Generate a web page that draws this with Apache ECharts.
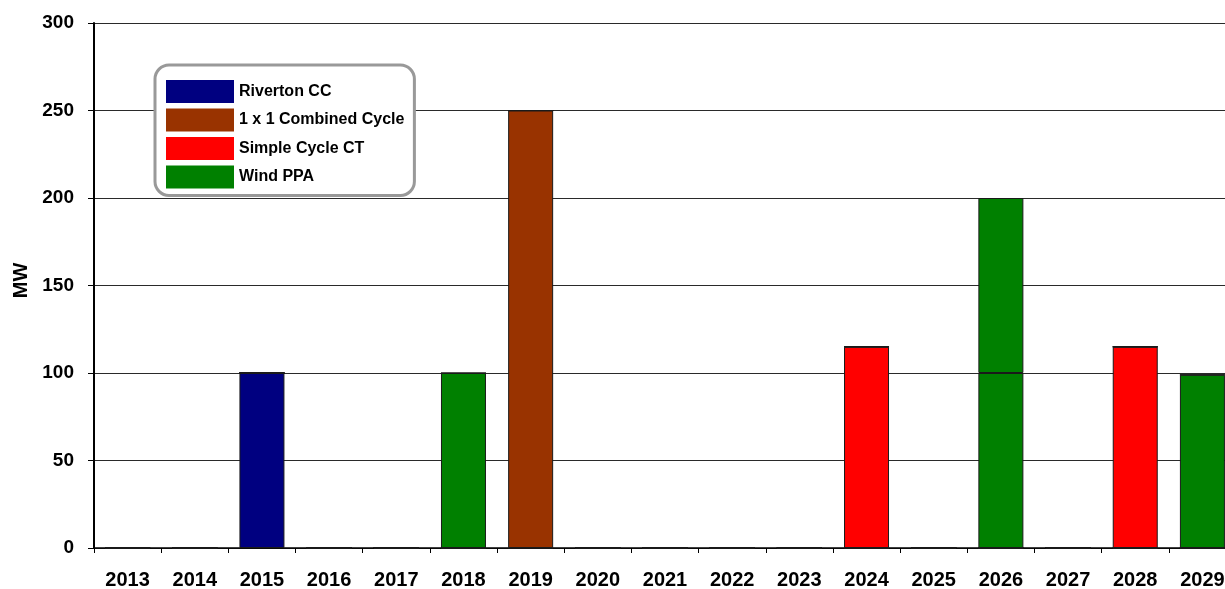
<!DOCTYPE html>
<html>
<head>
<meta charset="utf-8">
<script src="https://cdn.jsdelivr.net/npm/echarts@6/dist/echarts.min.js"></script>
<style>
  html, body { margin: 0; padding: 0; background: #fff; overflow: hidden; }
  #chart { width: 1225px; height: 589px; }
</style>
</head>
<body>
<div id="chart"></div>
<script>
// Resource additions by year (MW)
const years = ['2013','2014','2015','2016','2017','2018','2019','2020','2021','2022','2023','2024','2025','2026','2027','2028','2029'];
const rivertonCC     = [0, 0, 100, 0, 0, 0, 0, 0, 0, 0, 0, 0, 0, 0, 0, 0, 0];
const combinedCycle  = [0, 0, 0, 0, 0, 0, 250, 0, 0, 0, 0, 0, 0, 0, 0, 0, 0];
const simpleCycleCT  = [0, 0, 0, 0, 0, 0, 0, 0, 0, 0, 0, 115, 0, 0, 0, 115, 0];
const windPPA        = [0, 0, 0, 0, 0, 100, 0, 0, 0, 0, 0, 0, 0, 100, 0, 0, 99];
const windPPAExtra   = [0, 0, 0, 0, 0, 0, 0, 0, 0, 0, 0, 0, 0, 100, 0, 0, 0];
const yTicks = { min: 0, max: 300, interval: 50 };

const font = 'Liberation Sans, Arial, sans-serif';
const barStyle = (color) => ({ color: color, borderColor: '#1a1a1a', borderWidth: 1 });
const mk = (name, data, color) => ({
  name: name, type: 'bar', stack: 'total', data: data,
  barWidth: 45, itemStyle: barStyle(color), emphasis: { disabled: true }
});

const chart = echarts.init(document.getElementById('chart'), null, { renderer: 'canvas' });
chart.setOption({
  animation: false,
  backgroundColor: '#fff',
  grid: { left: 94, top: 23, bottom: 41, width: 1142, outerBoundsMode: 'none', containLabel: false },
  legend: {
    orient: 'vertical',
    left: 155, top: 65,
    data: ['Riverton CC', '1 x 1 Combined Cycle', 'Simple Cycle CT', 'Wind PPA'],
    icon: 'rect',
    itemWidth: 68, itemHeight: 23, itemGap: 5.5,
    padding: [15, 10, 7, 11],
    borderColor: '#999', borderWidth: 3, borderRadius: 14,
    backgroundColor: '#fff',
    selectedMode: false,
    itemStyle: { borderWidth: 0 },
    textStyle: { fontFamily: font, fontWeight: 'bold', fontSize: 16, color: '#000' }
  },
  xAxis: {
    type: 'category', data: years,
    axisLine: { lineStyle: { color: '#000', width: 1.5 } },
    axisTick: { show: true, alignWithLabel: false, length: 5, lineStyle: { color: '#000' } },
    axisLabel: { fontFamily: font, fontWeight: 'bold', fontSize: 20, color: '#000', margin: 22, interval: 0 }
  },
  yAxis: {
    type: 'value', min: yTicks.min, max: yTicks.max, interval: yTicks.interval,
    name: 'MW', nameLocation: 'middle', nameGap: 61, nameRotate: 90,
    nameTextStyle: { fontFamily: font, fontWeight: 'bold', fontSize: 20, color: '#000', padding: [0, 0, 0, 10] },
    axisLine: { show: true, lineStyle: { color: '#000', width: 2 } },
    axisTick: { show: true, length: 6, lineStyle: { color: '#000' } },
    axisLabel: { fontFamily: font, fontWeight: 'bold', fontSize: 19, color: '#000', margin: 20, padding: [4, 0, 0, 0] },
    splitLine: { show: true, lineStyle: { color: '#2a2a2a', width: 1.2 } }
  },
  series: [
    mk('Riverton CC', rivertonCC, '#000080'),
    mk('1 x 1 Combined Cycle', combinedCycle, '#993300'),
    mk('Simple Cycle CT', simpleCycleCT, '#ff0000'),
    mk('Wind PPA', windPPA, '#008000'),
    mk('Wind PPA', windPPAExtra, '#008000')
  ]
});
</script>
</body>
</html>
